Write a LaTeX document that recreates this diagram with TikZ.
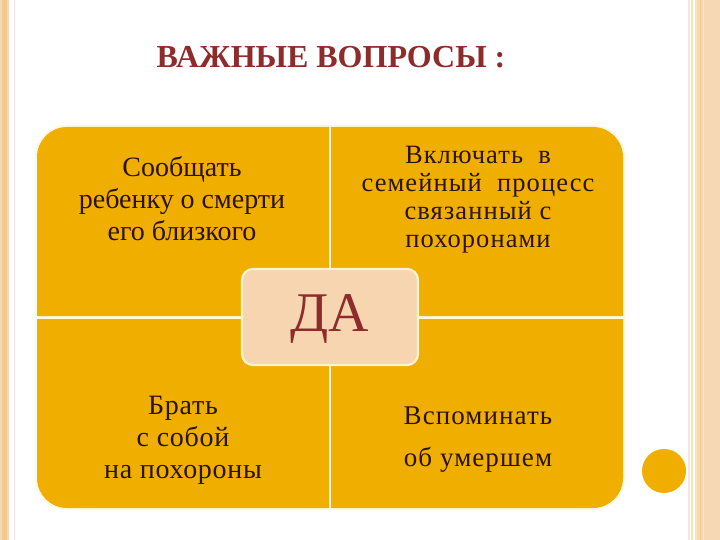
\documentclass[tikz,border=0pt]{standalone}
\usepackage{fontspec}
\setmainfont{Liberation Serif}
\newfontfamily\spacedfont[LetterSpace=4]{Liberation Serif}
\newfontfamily\lightspaced[LetterSpace=2.5]{Liberation Serif}
\definecolor{quad}{HTML}{F0AE00}
\definecolor{peach}{HTML}{F6D5B0}
\definecolor{cream}{HTML}{FFF3CF}
\definecolor{darkred}{HTML}{8E2B2B}
\definecolor{ink}{HTML}{2A1400}
\definecolor{beige}{HTML}{F5D9B5}
\definecolor{stripe}{HTML}{F3C98E}
\definecolor{pinkline}{HTML}{FBE3E3}
\definecolor{yline}{HTML}{F6E7B5}
\tikzset{
  qfill/.style={fill=quad},
  qtext/.style={text=ink, align=center, font=\fontsize{28}{32}\selectfont},
}
\begin{document}
\begin{tikzpicture}[x=1pt,y=-1pt]
\useasboundingbox (0,0) rectangle (720,540);
\fill[white] (0,0) rectangle (720,540);
% left border
\fill[beige] (0,0) rectangle (9,540);
\fill[stripe] (2,0) rectangle (7,540);
\fill[pinkline] (13.5,0) rectangle (15,540);
% right border
\fill[pinkline] (688,0) rectangle (689.5,540);
\fill[yline] (690.5,0) rectangle (692.5,540);
\fill[yline] (695,0) rectangle (697,540);
\fill[beige] (697,0) rectangle (720,540);
\fill[stripe] (699.5,0) rectangle (701,540);
\fill[yline] (702.5,0) rectangle (704,540);
% title
\node[text=darkred, font=\bfseries\fontsize{32}{36}\selectfont] (title) at (331,57) {ВАЖНЫЕ ВОПРОСЫ :};
% faint glow around grid
\fill[cream!60] (35,125) [rounded corners=32pt] rectangle (625,510);
% quadrants
\fill[qfill] (329,316) -- (37,316) [rounded corners=30pt] -- (37,127) [sharp corners] -- (329,127) -- cycle;
\fill[qfill] (331,316) -- (331,127) [rounded corners=30pt] -- (623,127) [sharp corners] -- (623,316) -- cycle;
\fill[qfill] (329,319) -- (329,508) [rounded corners=30pt] -- (37,508) [sharp corners] -- (37,319) -- cycle;
\fill[qfill] (331,319) -- (623,319) [rounded corners=30pt] -- (623,508) [sharp corners] -- (331,508) -- cycle;
% quadrant texts
\node[qtext] (tl) at (182,199) {Сообщать\\ребенку о смерти\\его близкого};
\node[qtext, font=\spacedfont\fontsize{26.5}{28}\selectfont] (tr) at (478,200) {Включать~~в\\семейный~~процесс\\связанный с\\похоронами};
\node[qtext, font=\lightspaced\fontsize{28}{32}\selectfont] (bl) at (183,440) {Брать\\с собой\\на похороны};
\node[qtext, font=\spacedfont\fontsize{27}{42}\selectfont] (br) at (478,440) {Вспоминать\\об умершем};
% centre box
\node[draw=cream, line width=2.2pt, fill=peach, rounded corners=11pt, minimum width=176pt, minimum height=96pt, inner sep=0pt] (da) at (330,317) {};
\node[text=darkred, font=\fontsize{56}{60}\selectfont] (datext) at (330,319) {ДА};
% circle
\fill[quad] (664,471) circle (22pt);
\end{tikzpicture}
\end{document}
